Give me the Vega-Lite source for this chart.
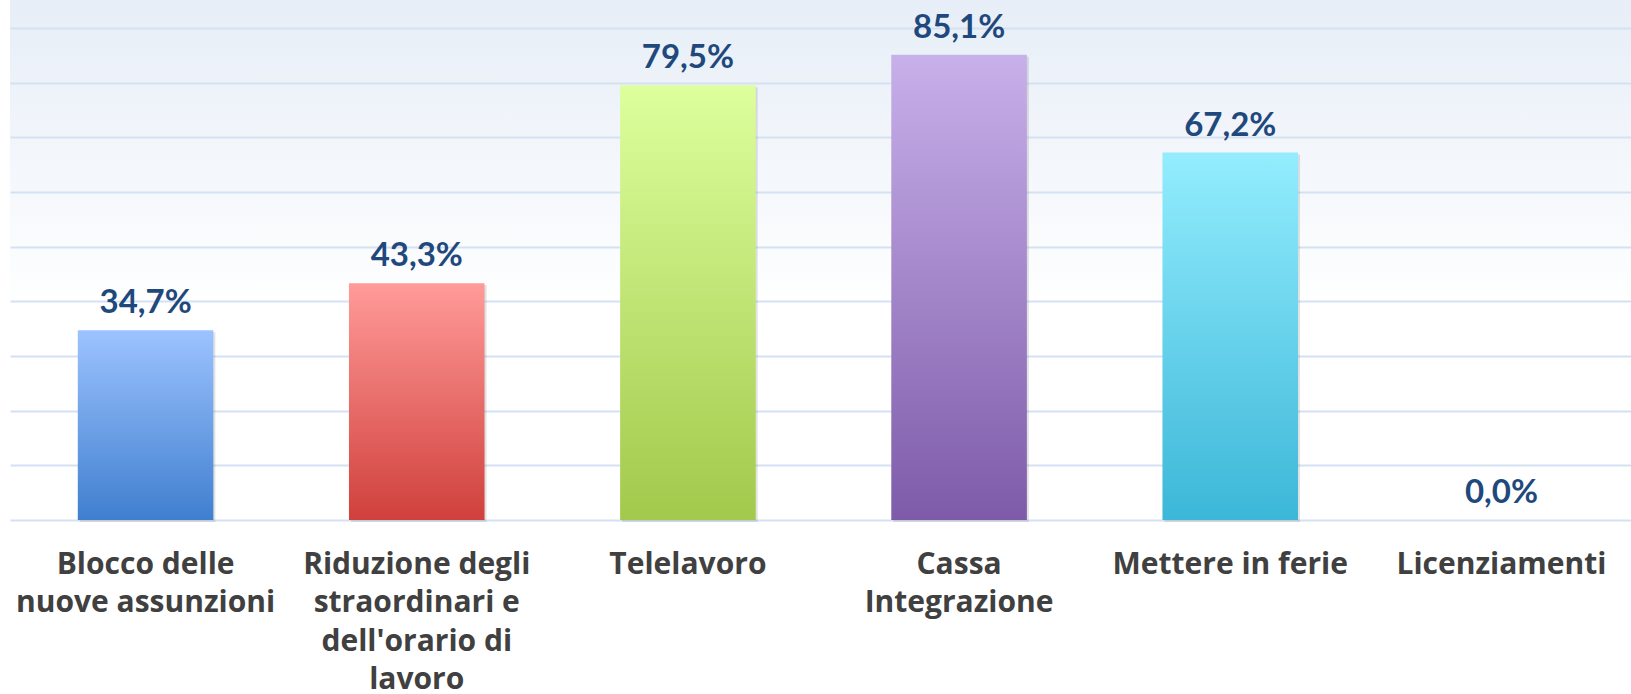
{
  "$schema": "https://vega.github.io/schema/vega-lite/v6.json",
  "width": 1627,
  "height": 520,
  "padding": {"left": 10, "top": 0, "right": 0, "bottom": 174},
  "autosize": {"type": "none"},
  "background": "#ffffff",
  "config": {
    "locale": {"number": {"decimal": ",", "thousands": ".", "grouping": [3], "currency": ["€", ""]}},
    "view": {
      "stroke": null,
      "fill": {"gradient": "linear", "x1": 0, "y1": 0, "x2": 0, "y2": 1,
        "stops": [{"offset": 0, "color": "#e7eef7"}, {"offset": 0.6, "color": "#ffffff"}, {"offset": 1, "color": "#ffffff"}]}
    }
  },
  "data": {"values": [
    {"categoria": "Blocco delle nuove assunzioni", "quota": 0.347},
    {"categoria": "Riduzione degli straordinari e dell'orario di lavoro", "quota": 0.433},
    {"categoria": "Telelavoro", "quota": 0.795},
    {"categoria": "Cassa Integrazione", "quota": 0.851},
    {"categoria": "Mettere in ferie", "quota": 0.672},
    {"categoria": "Licenziamenti", "quota": 0.0}
  ]},
  "encoding": {
    "x": {
      "field": "categoria", "type": "nominal", "sort": null, "title": null,
      "scale": {"paddingInner": 0.5, "paddingOuter": 0.25},
      "axis": {
        "domain": false, "ticks": false, "tickSize": 0, "grid": false,
        "labelAngle": 0, "labelAlign": "center", "labelBaseline": "alphabetic",
        "labelPadding": 53, "labelFont": "Open Sans", "labelFontWeight": "bold",
        "labelFontSize": 30, "labelColor": "#404040", "labelLineHeight": 38.5,
        "labelLimit": 0,
        "labelExpr": "datum.value == 'Blocco delle nuove assunzioni' ? ['Blocco delle', 'nuove assunzioni'] : datum.value == \"Riduzione degli straordinari e dell'orario di lavoro\" ? ['Riduzione degli', 'straordinari e', \"dell'orario di\", 'lavoro'] : datum.value == 'Cassa Integrazione' ? ['Cassa', 'Integrazione'] : datum.value"
      }
    },
    "y": {
      "field": "quota", "type": "quantitative", "title": null,
      "scale": {"domain": [0, 0.951], "nice": false, "zero": true},
      "axis": {
        "values": [0, 0.1, 0.2, 0.3, 0.4, 0.5, 0.6, 0.7, 0.8, 0.9],
        "domain": false, "ticks": false, "labels": false,
        "grid": true, "gridColor": "#d3e1f3", "gridWidth": 2
      }
    }
  },
  "layer": [
    {
      "mark": {"type": "bar", "color": "#7a7a7a", "opacity": 0.22, "xOffset": 2, "yOffset": 2}
    },
    {
      "mark": {"type": "bar"},
      "encoding": {
        "fill": {
          "condition": [
            {"test": "datum.categoria == 'Blocco delle nuove assunzioni'",
             "value": {"gradient": "linear", "x1": 0, "y1": 0, "x2": 0, "y2": 1, "stops": [{"offset": 0, "color": "#9cc3ff"}, {"offset": 1, "color": "#407fcf"}]}},
            {"test": "datum.categoria == \"Riduzione degli straordinari e dell'orario di lavoro\"",
             "value": {"gradient": "linear", "x1": 0, "y1": 0, "x2": 0, "y2": 1, "stops": [{"offset": 0, "color": "#ff9b99"}, {"offset": 1, "color": "#d0403c"}]}},
            {"test": "datum.categoria == 'Telelavoro'",
             "value": {"gradient": "linear", "x1": 0, "y1": 0, "x2": 0, "y2": 1, "stops": [{"offset": 0, "color": "#ddff9d"}, {"offset": 1, "color": "#a2c94b"}]}},
            {"test": "datum.categoria == 'Cassa Integrazione'",
             "value": {"gradient": "linear", "x1": 0, "y1": 0, "x2": 0, "y2": 1, "stops": [{"offset": 0, "color": "#c8b0ea"}, {"offset": 1, "color": "#7e5ba9"}]}},
            {"test": "datum.categoria == 'Mettere in ferie'",
             "value": {"gradient": "linear", "x1": 0, "y1": 0, "x2": 0, "y2": 1, "stops": [{"offset": 0, "color": "#93edfe"}, {"offset": 1, "color": "#3cb7d8"}]}}
          ],
          "value": "#cccccc"
        }
      }
    },
    {
      "mark": {"type": "text", "baseline": "alphabetic", "align": "center", "dy": -17,
        "font": "Lato", "fontWeight": "bold", "fontSize": 33, "color": "#1f497d"},
      "encoding": {
        "text": {"field": "quota", "type": "quantitative", "format": ".1%"}
      }
    }
  ]
}
